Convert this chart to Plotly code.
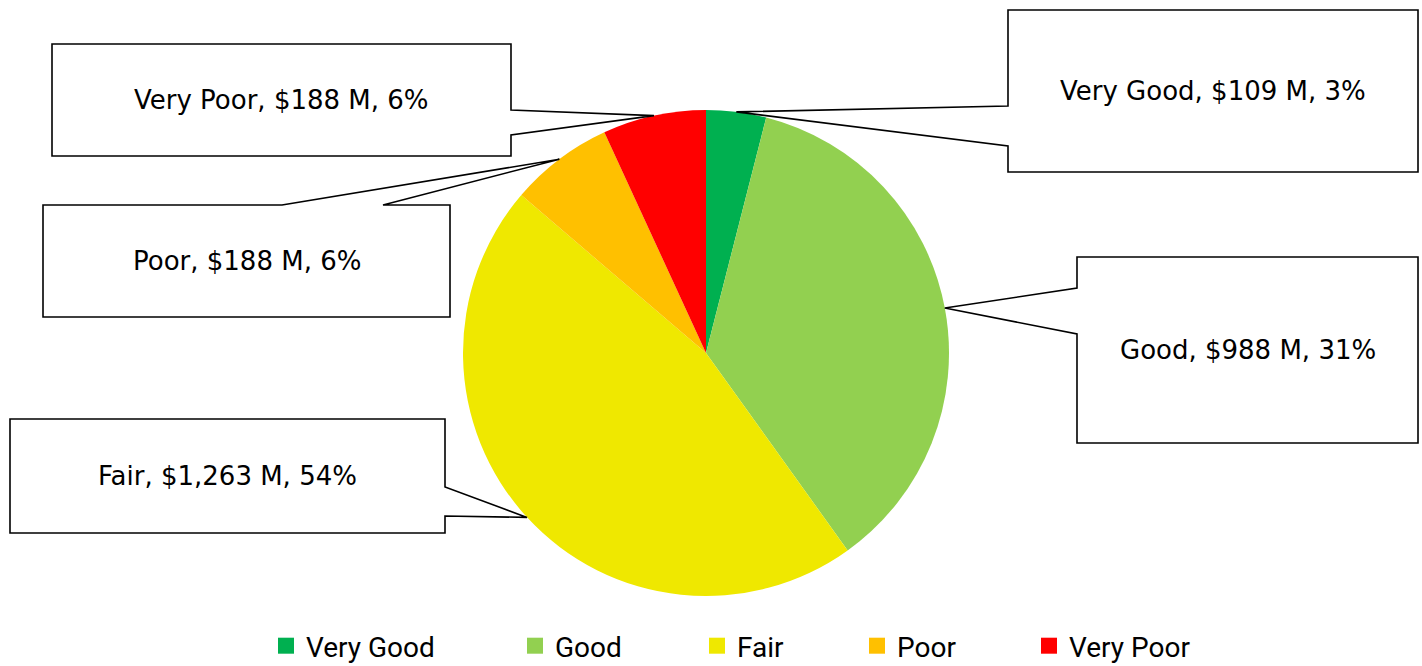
import math
import plotly.graph_objects as go

# ---------------- data ----------------
labels = ["Very Good", "Good", "Fair", "Poor", "Very Poor"]
values_musd = [109, 988, 1263, 188, 188]
pct_labels = ["3%", "31%", "54%", "6%", "6%"]
colors = ["#00B050", "#92D050", "#EFE800", "#FFC000", "#FF0000"]

# ---------------- layout constants ----------------
W, H = 1422, 666
CX, CY, R = 706, 353, 243          # pie centre / radius in px
dom_x = [(CX - R) / W, (CX + R) / W]
dom_y = [1 - (CY + R) / H, 1 - (CY - R) / H]

# callout boxes: (x0, y0, x1, y1, side, notch_a, notch_b) in px
callouts = {
    "Very Poor": (52, 44, 511, 156, "right", 110, 135),
    "Poor":      (43, 205, 450, 317, "top", 282, 383),
    "Fair":      (10, 419, 445, 533, "right", 487, 516),
    "Very Good": (1008, 10, 1418, 172, "left", 106, 146),
    "Good":      (1077, 257, 1418, 443, "left", 288, 334),
}
legend_starts = [277, 526, 708, 868, 1040]

def px(x, y):
    return f"{x / W:.5f},{1 - y / H:.5f}"

fig = go.Figure()
fig.add_trace(go.Pie(
    labels=labels, values=values_musd, sort=False, direction="clockwise",
    rotation=0, marker=dict(colors=colors, line=dict(width=0)),
    textinfo="none", showlegend=False, domain=dict(x=dom_x, y=dom_y),
))

# slice mid-angles from the data -> leader tip positions
total = sum(values_musd)
cum = 0.0
shapes, annotations = [], []
for lab, v, pct in zip(labels, values_musd, pct_labels):
    mid = (cum + v / 2) / total * 2 * math.pi
    cum += v
    tx = CX + R * math.sin(mid)
    ty = CY - R * math.cos(mid)
    x0, y0, x1, y1, side, a, b = callouts[lab]
    if side == "right":
        pts = [(x0, y0), (x1, y0), (x1, a), (tx, ty), (x1, b), (x1, y1), (x0, y1)]
    elif side == "left":
        pts = [(x0, y0), (x1, y0), (x1, y1), (x0, y1), (x0, b), (tx, ty), (x0, a)]
    else:  # top
        pts = [(x0, y0), (a, y0), (tx, ty), (b, y0), (x1, y0), (x1, y1), (x0, y1)]
    path = "M" + " L".join(px(*p) for p in pts) + " Z"
    shapes.append(dict(type="path", xref="paper", yref="paper", path=path,
                       fillcolor="white", line=dict(color="black", width=1.6)))
    annotations.append(dict(
        xref="paper", yref="paper", x=(x0 + x1) / 2 / W, y=1 - (y0 + y1) / 2 / H,
        text=f"{lab}, ${v:,} M, {pct}", showarrow=False,
        xanchor="center", yanchor="middle",
        font=dict(family="DejaVu Sans", size=26, color="black"),
    ))

# legend entries (one legend per entry to reproduce spacing)
legend_layouts = {}
for i, (lab, col, sx) in enumerate(zip(labels, colors, legend_starts)):
    lid = "legend" if i == 0 else f"legend{i + 1}"
    fig.add_trace(go.Scatter(
        x=[None], y=[None], mode="markers", name=lab, legend=lid,
        marker=dict(symbol="square", size=16, color=col, line=dict(width=0)),
        showlegend=True, hoverinfo="skip",
    ))
    legend_layouts[lid] = dict(
        x=(sx + 9 - 20) / W, xanchor="left", y=1 - 646 / H, yanchor="middle",
        orientation="h", bgcolor="rgba(0,0,0,0)", borderwidth=0,
        font=dict(family="Roboto", size=28, color="black"),
    )

fig.update_layout(
    width=W, height=H, margin=dict(l=0, r=0, t=0, b=0, autoexpand=False),
    paper_bgcolor="white", plot_bgcolor="white",
    xaxis=dict(visible=False), yaxis=dict(visible=False),
    shapes=shapes, annotations=annotations,
    **legend_layouts,
)
fig.write_html("out.html")
